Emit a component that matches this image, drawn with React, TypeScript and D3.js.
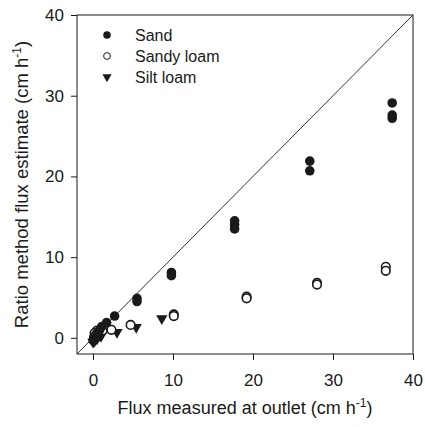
import React, { useEffect, useRef } from 'react';
import * as d3 from 'd3';

// [measured at outlet, ratio method estimate]
const sand: [number, number][] = [
  [37.4, 29.1], [37.4, 27.6], [37.4, 27.2],
  [27.1, 21.9], [27.1, 20.7],
  [17.7, 14.5], [17.7, 14.0], [17.7, 13.5],
  [9.8, 8.1], [9.8, 7.7],
  [5.5, 4.9], [5.5, 4.5],
  [2.7, 2.7], [1.7, 1.9], [1.1, 1.4], [0.8, 0.9],
  [0.4, 0.5], [0.1, 0.1], [0.0, -0.3], [0.3, -0.1], [0.6, 0.3],
];

const sandyLoam: [number, number][] = [
  [36.6, 8.8], [36.6, 8.3],
  [28.0, 6.8], [28.0, 6.6],
  [19.2, 5.1], [19.2, 4.9],
  [10.1, 2.9], [10.1, 2.7],
  [4.7, 1.6], [2.3, 1.0], [1.2, 0.9], [0.5, 0.9], [0.2, 0.6],
];

const siltLoam: [number, number][] = [
  [8.6, 2.4], [5.4, 1.3], [3.0, 0.7], [1.0, 0.2],
  [0.7, 0.3], [0.5, -0.1], [0.2, -0.4], [0.0, -0.5],
];

const ticks = [0, 10, 20, 30, 40];
const legendLabels = ['Sand', 'Sandy loam', 'Silt loam'];

const App = () => {
  const ref = useRef<SVGSVGElement>(null);

  useEffect(() => {
    const width = 425;
    const height = 427;
    const margin = { top: 15, right: 12, bottom: 73, left: 77 };

    const svg = d3.select(ref.current)
      .attr('width', width)
      .attr('height', height);
    svg.selectAll('*').remove();

    const font = 'Liberation Sans, Arial, sans-serif';
    const ink = '#1a1a1a';

    const x = d3.scaleLinear().domain([-2, 40]).range([margin.left, width - margin.right]);
    const y = d3.scaleLinear().domain([-2, 40]).range([height - margin.bottom, margin.top]);

    // frame
    svg.append('rect')
      .attr('x', x(-2)).attr('y', y(40))
      .attr('width', x(40) - x(-2)).attr('height', y(-2) - y(40))
      .attr('fill', 'none').attr('stroke', ink).attr('stroke-width', 1);

    // axes
    const xAxis = svg.append('g')
      .attr('transform', `translate(0,${y(-2)})`)
      .call(d3.axisBottom(x).tickValues(ticks).tickSize(6).tickPadding(14));
    const yAxis = svg.append('g')
      .attr('transform', `translate(${x(-2)},0)`)
      .call(d3.axisLeft(y).tickValues(ticks).tickSize(6).tickPadding(7));
    [xAxis, yAxis].forEach(a => {
      a.select('.domain').remove();
      a.selectAll('line').attr('stroke', ink);
      a.selectAll('text')
        .attr('fill', ink)
        .style('font-family', font)
        .style('font-size', '17px');
    });

    // 1:1 line
    svg.append('line')
      .attr('x1', x(-2)).attr('y1', y(-2))
      .attr('x2', x(40)).attr('y2', y(40))
      .attr('stroke', '#333').attr('stroke-width', 1);

    const tri = d3.symbol().type(d3.symbolTriangle).size(55)();

    svg.append('g').selectAll('path')
      .data(siltLoam)
      .enter()
      .append('path')
      .attr('d', tri)
      .attr('transform', d => `translate(${x(d[0])},${y(d[1])}) rotate(180)`)
      .attr('fill', ink);

    svg.append('g').selectAll('circle')
      .data(sandyLoam)
      .enter()
      .append('circle')
      .attr('cx', d => x(d[0]))
      .attr('cy', d => y(d[1]))
      .attr('r', 4.3)
      .attr('fill', 'white')
      .attr('stroke', ink)
      .attr('stroke-width', 1.6);

    svg.append('g').selectAll('circle')
      .data(sand)
      .enter()
      .append('circle')
      .attr('cx', d => x(d[0]))
      .attr('cy', d => y(d[1]))
      .attr('r', 4.8)
      .attr('fill', ink);

    // legend
    const legend = svg.append('g').attr('transform', 'translate(107,35)');
    const item = legend.selectAll('.legend-item')
      .data(legendLabels)
      .enter()
      .append('g')
      .attr('class', 'legend-item')
      .attr('transform', (d, i) => `translate(0,${i * 21})`);
    item.each(function (d, i) {
      const g = d3.select(this);
      if (i === 0) g.append('circle').attr('r', 3.8).attr('fill', ink);
      if (i === 1) g.append('circle').attr('r', 3.4).attr('fill', 'white').attr('stroke', ink).attr('stroke-width', 1);
      if (i === 2) g.append('path').attr('d', d3.symbol().type(d3.symbolTriangle).size(36)()).attr('transform', 'rotate(180)').attr('fill', ink);
    });
    item.append('text')
      .attr('x', 28)
      .attr('y', 5.5)
      .attr('fill', ink)
      .style('font-family', font)
      .style('font-size', '16px')
      .text(d => d);

    // axis titles
    const xt = svg.append('text')
      .attr('x', (x(-2) + x(40)) / 2)
      .attr('y', 414)
      .attr('text-anchor', 'middle')
      .attr('fill', ink)
      .style('font-family', font)
      .style('font-size', '18px');
    xt.append('tspan').text('Flux measured at outlet (cm h');
    xt.append('tspan').attr('dy', -7).style('font-size', '12px').text('-1');
    xt.append('tspan').attr('dy', 7).text(')');

    const yt = svg.append('text')
      .attr('transform', `translate(28,${(y(-2) + y(40)) / 2}) rotate(-90)`)
      .attr('text-anchor', 'middle')
      .attr('fill', ink)
      .style('font-family', font)
      .style('font-size', '18.5px');
    yt.append('tspan').text('Ratio method flux estimate (cm h');
    yt.append('tspan').attr('dy', -7).style('font-size', '12px').text('-1');
    yt.append('tspan').attr('dy', 7).text(')');
  }, []);

  return (
    <svg
      ref={ref}
      style={{ position: 'absolute', left: 0, top: 0, background: 'white', display: 'block' }}
    />
  );
};

export default App;
